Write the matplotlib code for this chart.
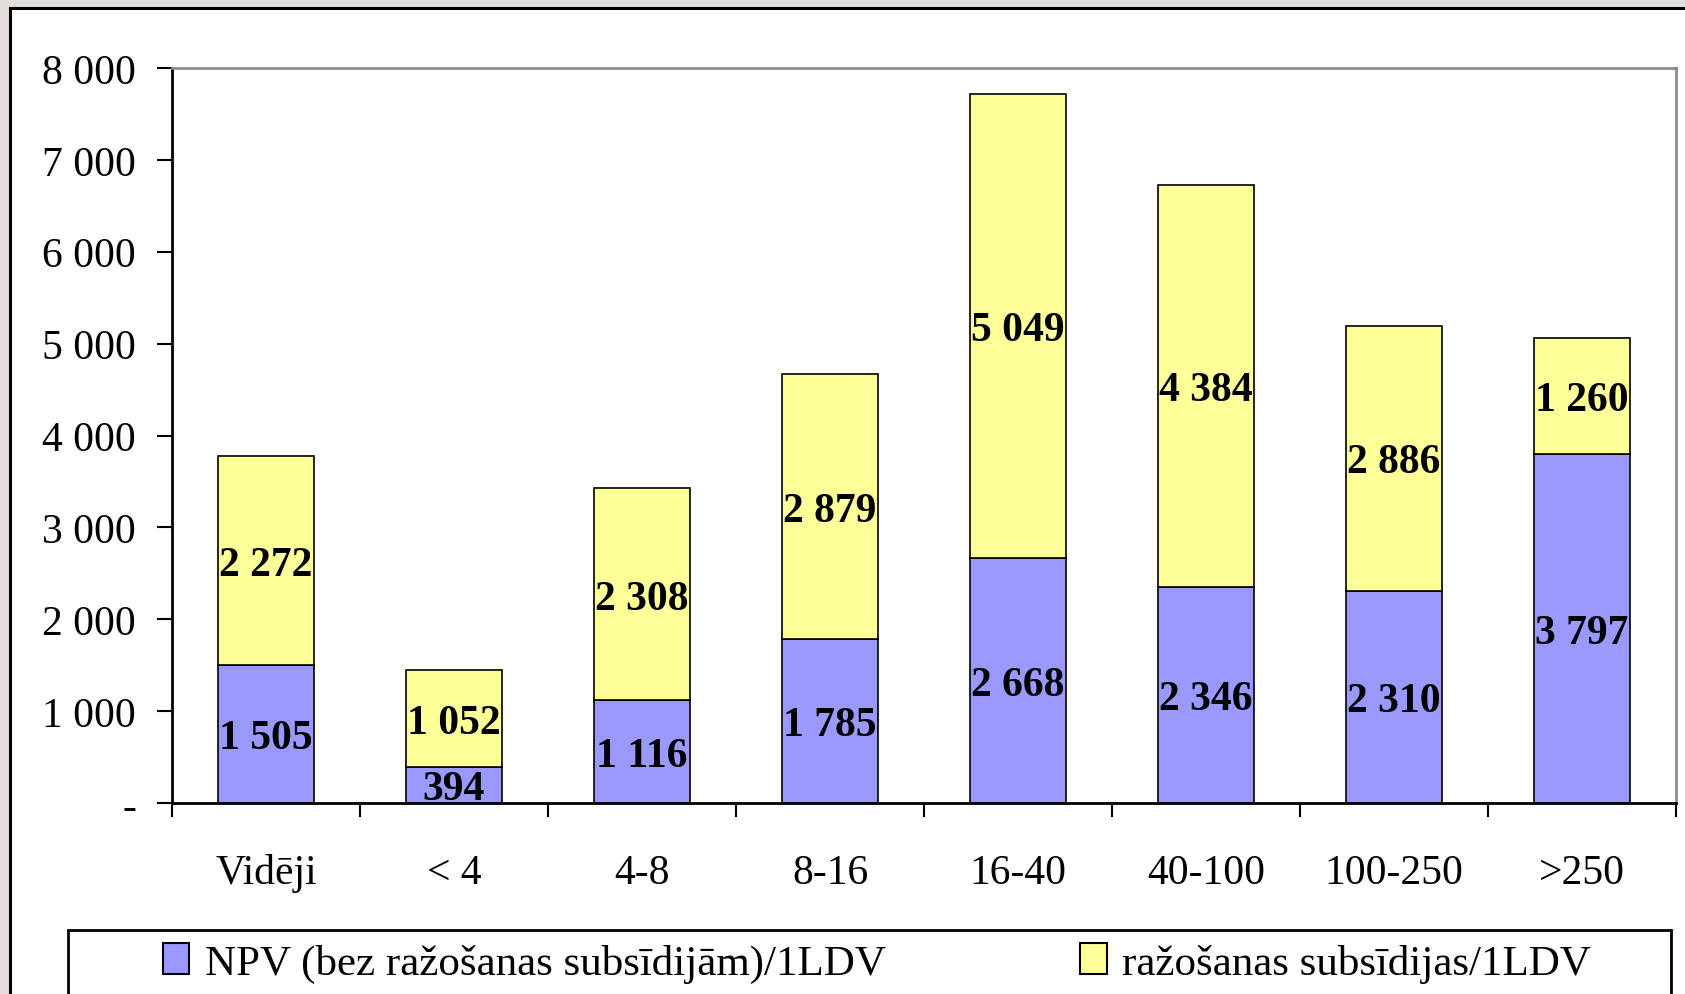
import matplotlib
matplotlib.use("Agg")
import matplotlib.pyplot as plt
from matplotlib.patches import Patch, Rectangle

categories = ["Vidēji", "< 4", "4-8", "8-16", "16-40", "40-100", "100-250", ">250"]
npv = [1505, 394, 1116, 1785, 2668, 2346, 2310, 3797]
subsidies = [2272, 1052, 2308, 2879, 5049, 4384, 2886, 1260]
y_ticks = [0, 1000, 2000, 3000, 4000, 5000, 6000, 7000, 8000]
series_names = ["NPV (bez ražošanas subsīdijām)/1LDV", "ražošanas subsīdijas/1LDV"]

W, H = 1685, 995
plt.rcParams["font.family"] = ["Liberation Serif", "DejaVu Serif"]


def fmt(v):
    if v == 0:
        return "-"
    return f"{v:,.0f}".replace(",", " ")


fig = plt.figure(figsize=(W / 100, H / 100), dpi=100, facecolor="#e2dfda")

# white chart area with black frame (right/bottom edges run off the picture)
fig.patches.append(Rectangle((10 / W, -0.05), 1.1, 1 - 9 / H + 0.05,
                             transform=fig.transFigure, facecolor="white",
                             edgecolor="black", linewidth=2.2, zorder=-2))

ax = fig.add_axes([172 / W, 1 - 804 / H, (1676 - 172) / W, (804 - 69) / H])
ax.set_facecolor("white")

x = range(len(categories))
b1 = ax.bar(x, npv, width=0.51, color="#9999ff", edgecolor="black", linewidth=1.2)
b2 = ax.bar(x, subsidies, width=0.51, bottom=npv, color="#ffff99",
            edgecolor="black", linewidth=1.2)

for bars, vals in ((b1, npv), (b2, subsidies)):
    anns = ax.bar_label(bars, labels=[fmt(v) for v in vals], label_type="center",
                        fontsize=30, fontweight="bold", color="black")
    for a in anns:
        a.xyann = (0, -3)

ax.set_xlim(-0.5, len(categories) - 0.5)
ax.set_ylim(0, 8000)
ax.set_yticks(y_ticks)
ax.set_yticklabels([fmt(v) for v in y_ticks], fontsize=30)
ax.tick_params(axis="y", length=11, width=1.5, pad=15)

ax.set_xticks(list(x))
ax.set_xticklabels(categories, fontsize=30)
ax.tick_params(axis="x", which="major", length=0, pad=36)
ax.set_xticks([i - 0.5 for i in range(len(categories) + 1)], minor=True)
ax.tick_params(axis="x", which="minor", length=10, width=1.5)

for side in ("top", "right"):
    ax.spines[side].set_color("#8c8c8c")
    ax.spines[side].set_linewidth(2)
for side in ("left", "bottom"):
    ax.spines[side].set_color("black")
    ax.spines[side].set_linewidth(2)

# legend box
fig.patches.append(Rectangle((68 / W, -0.05), (1671 - 68) / W, 1 - 931 / H + 0.05,
                             transform=fig.transFigure, facecolor="white",
                             edgecolor="black", linewidth=2, zorder=-1))
handles = [Patch(facecolor="#9999ff", edgecolor="black", linewidth=1.5),
           Patch(facecolor="#ffff99", edgecolor="black", linewidth=1.5)]
fig.legend(handles, series_names, loc="center", ncol=2, mode="expand",
           bbox_to_anchor=(124 / W, 1 - 964 / H - 0.01, (1630 - 124) / W, 0.02),
           frameon=False, fontsize=31, handlelength=0.62, handleheight=0.7,
           handletextpad=0.36, borderpad=0.4)

fig.savefig("out.png", dpi=100, facecolor=fig.get_facecolor())
